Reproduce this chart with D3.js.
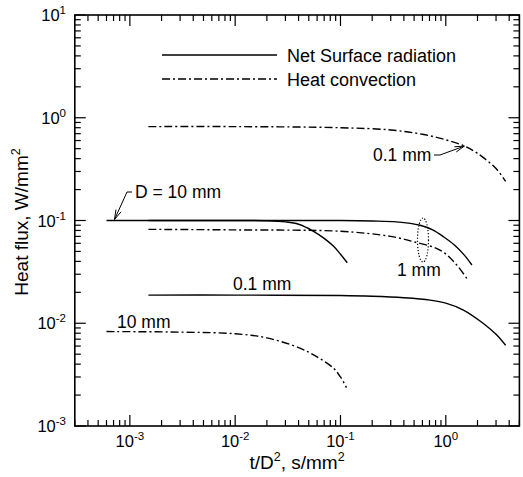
<!DOCTYPE html>
<html><head><meta charset="utf-8">
<script src="https://cdn.jsdelivr.net/npm/d3@7"></script>
<style>
body{margin:0;background:#fff;}
text{font-family:"Liberation Sans",Arial,sans-serif;fill:#000;}
</style></head>
<body><svg id="c" width="523" height="477"></svg>
<script>
// ---- data ----
const xTickExps = [-3, -2, -1, 0];
const yTickExps = [-3, -2, -1, 0, 1];

const radX10 = [6e-4, 3e-3, 0.01, 0.02, 0.03, 0.04, 0.055, 0.07, 0.086, 0.1, 0.116];
const radY10 = [0.1, 0.1, 0.1, 0.0995, 0.097, 0.092, 0.079, 0.067, 0.056, 0.047, 0.0388];

const radX1 = [1.5e-3, 0.01, 0.1, 0.2, 0.34, 0.57, 0.75, 0.95, 1.2, 1.5, 1.77];
const radY1 = [0.1, 0.1, 0.1, 0.099, 0.097, 0.09, 0.081, 0.0695, 0.058, 0.046, 0.0369];

const radX01 = [1.5e-3, 0.01, 0.1, 0.2, 0.4, 0.71, 1.0, 1.47, 2.26, 3.0, 3.7];
const radY01 = [0.0188, 0.0188, 0.0186, 0.0183, 0.0177, 0.0168, 0.0157, 0.01345, 0.01, 0.0078, 0.0061];

const convX01 = [1.5e-3, 0.01, 0.1, 0.3, 0.6, 1.0, 1.5, 2.0, 3.0, 3.7];
const convY01 = [0.82, 0.82, 0.8, 0.76, 0.69, 0.61, 0.53, 0.45, 0.32, 0.24];

const convX1 = [1.5e-3, 0.01, 0.1, 0.3, 0.49, 0.88, 1.27, 1.64];
const convY1 = [0.082, 0.081, 0.0785, 0.07, 0.0622, 0.0516, 0.0369, 0.0258];

const convX10 = [6e-4, 3e-3, 0.01, 0.02, 0.04, 0.06, 0.086, 0.1, 0.114];
const convY10 = [0.0083, 0.0082, 0.0079, 0.0072, 0.0058, 0.0047, 0.00365, 0.003, 0.00236];

const legendLabels = ["Net Surface radiation", "Heat convection"];

// ---- layout ----
const svg = d3.select("#c");
const L = 74.8, R = 519.4, T = 15, B = 426;
const x = d3.scaleLog().domain([3e-4, 5]).range([L, R]);
const y = d3.scaleLog().domain([1e-3, 10]).range([B, T]);
const DASHDOT = "8,3,2,3";

function logTicks(lo, hi) {
  const maj = [], min = [];
  for (let e = Math.floor(Math.log10(lo)); e <= Math.ceil(Math.log10(hi)); e++) {
    for (let m = 1; m <= 9; m++) {
      const v = m * Math.pow(10, e);
      if (v < lo * 0.999 || v > hi * 1.001) continue;
      (m === 1 ? maj : min).push(v);
    }
  }
  return {maj, min};
}
const xt = logTicks(3e-4, 5), yt = logTicks(1e-3, 10);
const g = svg.append("g").attr("stroke", "#000").attr("stroke-width", 1.2);
const MAJ = 11, MIN = 6;
xt.maj.forEach(v => {
  g.append("line").attr("x1", x(v)).attr("x2", x(v)).attr("y1", B).attr("y2", B - MAJ);
  g.append("line").attr("x1", x(v)).attr("x2", x(v)).attr("y1", T).attr("y2", T + MAJ);
});
xt.min.forEach(v => {
  g.append("line").attr("x1", x(v)).attr("x2", x(v)).attr("y1", B).attr("y2", B - MIN);
  g.append("line").attr("x1", x(v)).attr("x2", x(v)).attr("y1", T).attr("y2", T + MIN);
});
yt.maj.forEach(v => {
  g.append("line").attr("y1", y(v)).attr("y2", y(v)).attr("x1", L).attr("x2", L + MAJ);
  g.append("line").attr("y1", y(v)).attr("y2", y(v)).attr("x1", R).attr("x2", R - MAJ);
});
yt.min.forEach(v => {
  g.append("line").attr("y1", y(v)).attr("y2", y(v)).attr("x1", L).attr("x2", L + MIN);
  g.append("line").attr("y1", y(v)).attr("y2", y(v)).attr("x1", R).attr("x2", R - MIN);
});
svg.append("rect").attr("x", L).attr("y", T).attr("width", R - L).attr("height", B - T)
  .attr("fill", "none").attr("stroke", "#000").attr("stroke-width", 1.6);

// tick labels
function powLabel(sel, e) {
  sel.append("tspan").text("10");
  sel.append("tspan").attr("dy", -7).attr("font-size", 11.5).text(e);
}
xTickExps.forEach(e => {
  const t = svg.append("text").attr("x", x(Math.pow(10, e))).attr("y", 447)
    .attr("font-size", 16.5).attr("text-anchor", "middle");
  powLabel(t, e);
});
yTickExps.forEach(e => {
  const t = svg.append("text").attr("x", 66).attr("y", y(Math.pow(10, e)) + 6)
    .attr("font-size", 16.5).attr("text-anchor", "end");
  powLabel(t, e);
});

// axis titles
const xl = svg.append("text").attr("x", 297).attr("y", 469).attr("font-size", 19).attr("text-anchor", "middle");
xl.append("tspan").text("t/D");
xl.append("tspan").attr("dy", -8).attr("font-size", 12.5).text("2");
xl.append("tspan").attr("dy", 8).text(", s/mm");
xl.append("tspan").attr("dy", -8).attr("font-size", 12.5).text("2");
const yl = svg.append("text").attr("transform", "translate(28,222) rotate(-90)").attr("font-size", 19).attr("text-anchor", "middle");
yl.append("tspan").text("Heat flux, W/mm");
yl.append("tspan").attr("dy", -8).attr("font-size", 12.5).text("2");

// curves
const line = d3.line().x(d => x(d[0])).y(d => y(d[1])).curve(d3.curveCatmullRom.alpha(0.5));
const zip = (a, b) => a.map((v, i) => [v, b[i]]);
const curves = [
  [radX10, radY10, null], [radX1, radY1, null], [radX01, radY01, null],
  [convX01, convY01, DASHDOT], [convX1, convY1, DASHDOT], [convX10, convY10, DASHDOT]
];
curves.forEach(([xs, ys, dash]) => {
  svg.append("path").attr("d", line(zip(xs, ys))).attr("fill", "none")
    .attr("stroke", "#000").attr("stroke-width", 1.4)
    .attr("stroke-dasharray", dash);
});

// legend
svg.append("line").attr("x1", 162).attr("x2", 277).attr("y1", 55).attr("y2", 55).attr("stroke", "#000").attr("stroke-width", 1.4);
svg.append("line").attr("x1", 162).attr("x2", 277).attr("y1", 79).attr("y2", 79).attr("stroke", "#000").attr("stroke-width", 1.4).attr("stroke-dasharray", DASHDOT);
svg.append("text").attr("x", 287).attr("y", 61.5).attr("font-size", 18).text(legendLabels[0]);
svg.append("text").attr("x", 287).attr("y", 85.5).attr("font-size", 18).text(legendLabels[1]);

// annotations
function arrow(x0, y0, x1, y1) {
  svg.append("line").attr("x1", x0).attr("y1", y0).attr("x2", x1).attr("y2", y1).attr("stroke", "#000").attr("stroke-width", 1);
  const a = Math.atan2(y1 - y0, x1 - x0), len = 10, sp = 0.28;
  const p = d3.path();
  p.moveTo(x1 - len * Math.cos(a - sp), y1 - len * Math.sin(a - sp));
  p.lineTo(x1, y1);
  p.lineTo(x1 - len * Math.cos(a + sp), y1 - len * Math.sin(a + sp));
  svg.append("path").attr("d", p.toString()).attr("fill", "none").attr("stroke", "#000").attr("stroke-width", 1);
}
svg.append("line").attr("x1", 127).attr("x2", 132).attr("y1", 192).attr("y2", 192).attr("stroke", "#000").attr("stroke-width", 1);
arrow(127, 192, x(radX10[0]) + 8, y(radY10[0]) - 1);
svg.append("text").attr("x", 135).attr("y", 198).attr("font-size", 17.5).text("D = 10 mm");
svg.append("text").attr("x", 373).attr("y", 160.5).attr("font-size", 17.5).text("0.1 mm");
svg.append("line").attr("x1", 434).attr("x2", 440).attr("y1", 155).attr("y2", 155).attr("stroke", "#000").attr("stroke-width", 1);
arrow(440, 155, x(1.5), y(0.53));
svg.append("ellipse").attr("cx", 423).attr("cy", 240).attr("rx", 5.5).attr("ry", 22)
  .attr("fill", "none").attr("stroke", "#000").attr("stroke-width", 1.2).attr("stroke-dasharray", "1.2,1.8");
svg.append("text").attr("x", 397).attr("y", 275.5).attr("font-size", 17.5).text("1 mm");
svg.append("text").attr("x", 233).attr("y", 289.5).attr("font-size", 17.5).text("0.1 mm");
svg.append("text").attr("x", 117).attr("y", 327.5).attr("font-size", 17.5).text("10 mm");
</script></body></html>
